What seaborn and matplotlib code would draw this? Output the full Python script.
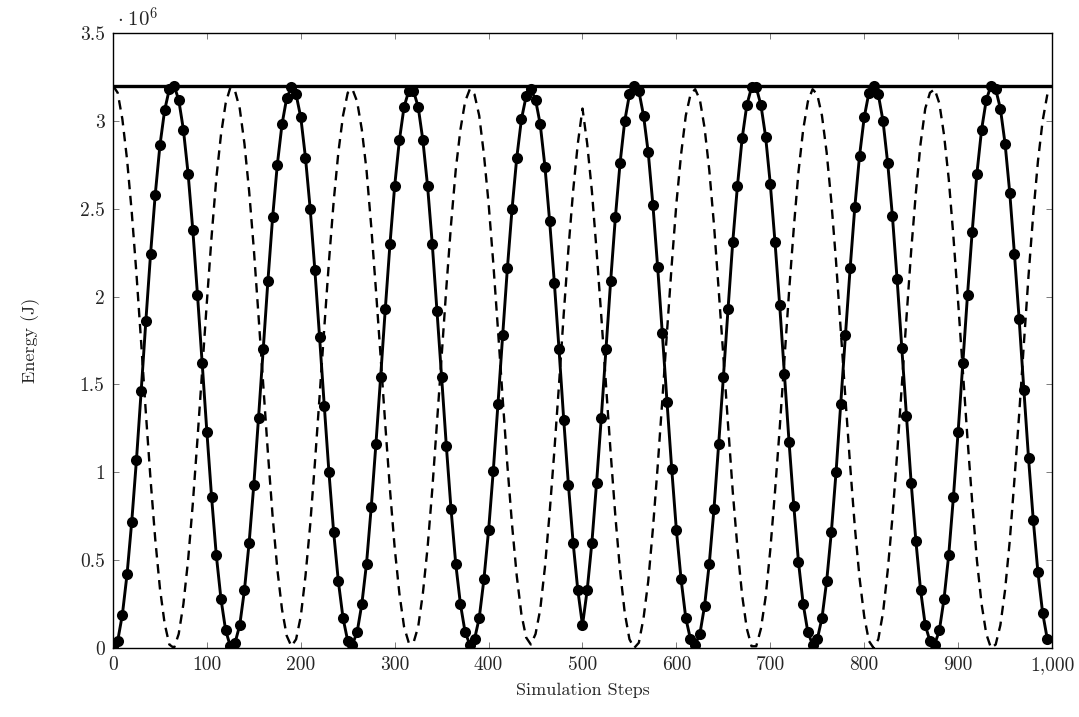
import matplotlib
matplotlib.use("Agg")
import matplotlib.pyplot as plt
import matplotlib.ticker as mticker
import seaborn as sns
import pandas as pd

# ---- data (energies in units of 1e6 J) ----
steps = list(range(0, 1000, 5))

kinetic = [
    0.00, 0.04, 0.19, 0.42, 0.72, 1.07, 1.46, 1.86, 2.24, 2.58,
    2.86, 3.06, 3.18, 3.20, 3.12, 2.95, 2.70, 2.38, 2.01, 1.62,
    1.23, 0.86, 0.53, 0.28, 0.10, 0.01, 0.03, 0.13, 0.33, 0.60,
    0.93, 1.31, 1.70, 2.09, 2.45, 2.75, 2.98, 3.13, 3.19, 3.15,
    3.02, 2.79, 2.50, 2.15, 1.77, 1.38, 1.00, 0.66, 0.38, 0.17,
    0.04, 0.02, 0.09, 0.25, 0.48, 0.80, 1.16, 1.54, 1.93, 2.30,
    2.63, 2.89, 3.08, 3.17, 3.17, 3.08, 2.89, 2.63, 2.30, 1.92,
    1.54, 1.15, 0.79, 0.48, 0.25, 0.09, 0.02, 0.05, 0.17, 0.39,
    0.67, 1.01, 1.39, 1.78, 2.16, 2.50, 2.79, 3.01, 3.14, 3.18,
    3.12, 2.98, 2.74, 2.43, 2.08, 1.70, 1.30, 0.93, 0.60, 0.33,
    0.13, 0.33, 0.60, 0.94, 1.31, 1.70, 2.09, 2.45, 2.76, 3.00,
    3.15, 3.20, 3.17, 3.03, 2.82, 2.52, 2.17, 1.79, 1.40, 1.02,
    0.67, 0.39, 0.17, 0.05, 0.02, 0.08, 0.24, 0.48, 0.79, 1.16,
    1.54, 1.93, 2.31, 2.63, 2.90, 3.09, 3.19, 3.19, 3.09, 2.91,
    2.64, 2.31, 1.95, 1.56, 1.17, 0.81, 0.49, 0.25, 0.09, 0.02,
    0.05, 0.17, 0.38, 0.66, 1.00, 1.39, 1.78, 2.16, 2.51, 2.80,
    3.02, 3.16, 3.20, 3.15, 3.00, 2.76, 2.46, 2.10, 1.71, 1.32,
    0.94, 0.61, 0.33, 0.13, 0.04, 0.02, 0.10, 0.28, 0.53, 0.86,
    1.23, 1.62, 2.01, 2.37, 2.70, 2.95, 3.12, 3.20, 3.18, 3.07,
    2.87, 2.59, 2.24, 1.87, 1.47, 1.08, 0.73, 0.43, 0.20, 0.05,
]

potential = [
    3.20, 3.16, 3.01, 2.78, 2.48, 2.13, 1.74, 1.34, 0.96, 0.62,
    0.34, 0.14, 0.02, 0.00, 0.08, 0.25, 0.50, 0.82, 1.19, 1.58,
    1.97, 2.34, 2.67, 2.92, 3.10, 3.19, 3.17, 3.07, 2.87, 2.60,
    2.27, 1.89, 1.50, 1.11, 0.75, 0.45, 0.22, 0.07, 0.01, 0.05,
    0.18, 0.41, 0.70, 1.05, 1.43, 1.82, 2.20, 2.54, 2.82, 3.03,
    3.16, 3.18, 3.11, 2.95, 2.72, 2.40, 2.04, 1.66, 1.27, 0.90,
    0.57, 0.31, 0.12, 0.03, 0.03, 0.12, 0.31, 0.57, 0.90, 1.28,
    1.66, 2.05, 2.41, 2.72, 2.95, 3.11, 3.18, 3.15, 3.03, 2.81,
    2.53, 2.19, 1.81, 1.42, 1.04, 0.70, 0.41, 0.19, 0.06, 0.02,
    0.08, 0.22, 0.46, 0.77, 1.12, 1.50, 1.90, 2.27, 2.60, 2.87,
    3.07, 2.87, 2.60, 2.26, 1.89, 1.50, 1.11, 0.75, 0.44, 0.20,
    0.05, 0.00, 0.03, 0.17, 0.38, 0.68, 1.03, 1.41, 1.80, 2.18,
    2.53, 2.81, 3.03, 3.15, 3.18, 3.12, 2.96, 2.72, 2.41, 2.04,
    1.66, 1.27, 0.89, 0.57, 0.30, 0.11, 0.01, 0.01, 0.11, 0.29,
    0.56, 0.89, 1.25, 1.64, 2.03, 2.39, 2.71, 2.95, 3.11, 3.18,
    3.15, 3.03, 2.82, 2.54, 2.20, 1.81, 1.42, 1.04, 0.69, 0.40,
    0.18, 0.04, 0.00, 0.05, 0.20, 0.44, 0.74, 1.10, 1.49, 1.88,
    2.26, 2.59, 2.87, 3.07, 3.16, 3.18, 3.10, 2.92, 2.67, 2.34,
    1.97, 1.58, 1.19, 0.83, 0.50, 0.25, 0.08, 0.00, 0.02, 0.13,
    0.33, 0.61, 0.96, 1.33, 1.73, 2.12, 2.47, 2.77, 3.00, 3.15,
]

total_energy = 3.20
scale = 1e6

x_ticks = [0, 100, 200, 300, 400, 500, 600, 700, 800, 900, 1000]
y_ticks = [0, 0.5, 1, 1.5, 2, 2.5, 3, 3.5]

df = pd.DataFrame({
    "step": steps,
    "kinetic": [v * scale for v in kinetic],
    "potential": [v * scale for v in potential],
})

# ---- style ----
sns.set_style("ticks")
plt.rcParams["font.family"] = ["cmr10", "DejaVu Serif"]
plt.rcParams["mathtext.fontset"] = "cm"
plt.rcParams["axes.formatter.use_mathtext"] = True
plt.rcParams["font.size"] = 13

fig = plt.figure(figsize=(10.79, 7.17), dpi=100)
ax = fig.add_axes([0.1047, 0.0962, 0.8703, 0.8578])

ax.axhline(total_energy * scale, color="black", lw=2.4, zorder=3)
sns.lineplot(data=df, x="step", y="potential", ax=ax, color="black",
             lw=1.7, dashes=False, zorder=2)
ax.lines[-1].set_dashes((4.0, 2.8))
sns.lineplot(data=df, x="step", y="kinetic", ax=ax, color="black",
             lw=2.1, marker="o", markersize=8, markeredgewidth=0,
             zorder=4)

ax.set_xlim(0, 1000)
ax.set_ylim(0, 3.5 * scale)
ax.set_xticks(x_ticks)
ax.set_yticks([v * scale for v in y_ticks])
ax.xaxis.set_major_formatter(mticker.FuncFormatter(lambda v, p: f"{int(v):,}"))
ax.yaxis.set_major_formatter(mticker.FuncFormatter(lambda v, p: f"{v / scale:g}"))

ax.tick_params(axis="both", which="major", direction="in", length=4.5,
               width=0.6, color="#666666", labelsize=14, pad=6,
               top=True, right=True)
for s in ax.spines.values():
    s.set_linewidth(1.0)
    s.set_color("black")

ax.set_xlabel("Simulation Steps", fontsize=13)
ax.set_ylabel("Energy (J)", fontsize=13)
ax.xaxis.set_label_coords(0.5, -0.057)
ax.yaxis.set_label_coords(-0.078, 0.5)

ax.text(0.004, 1.003, r"$\cdot\;10^{6}$", transform=ax.transAxes,
        ha="left", va="bottom", fontsize=15)

fig.savefig("out.png", dpi=100)
